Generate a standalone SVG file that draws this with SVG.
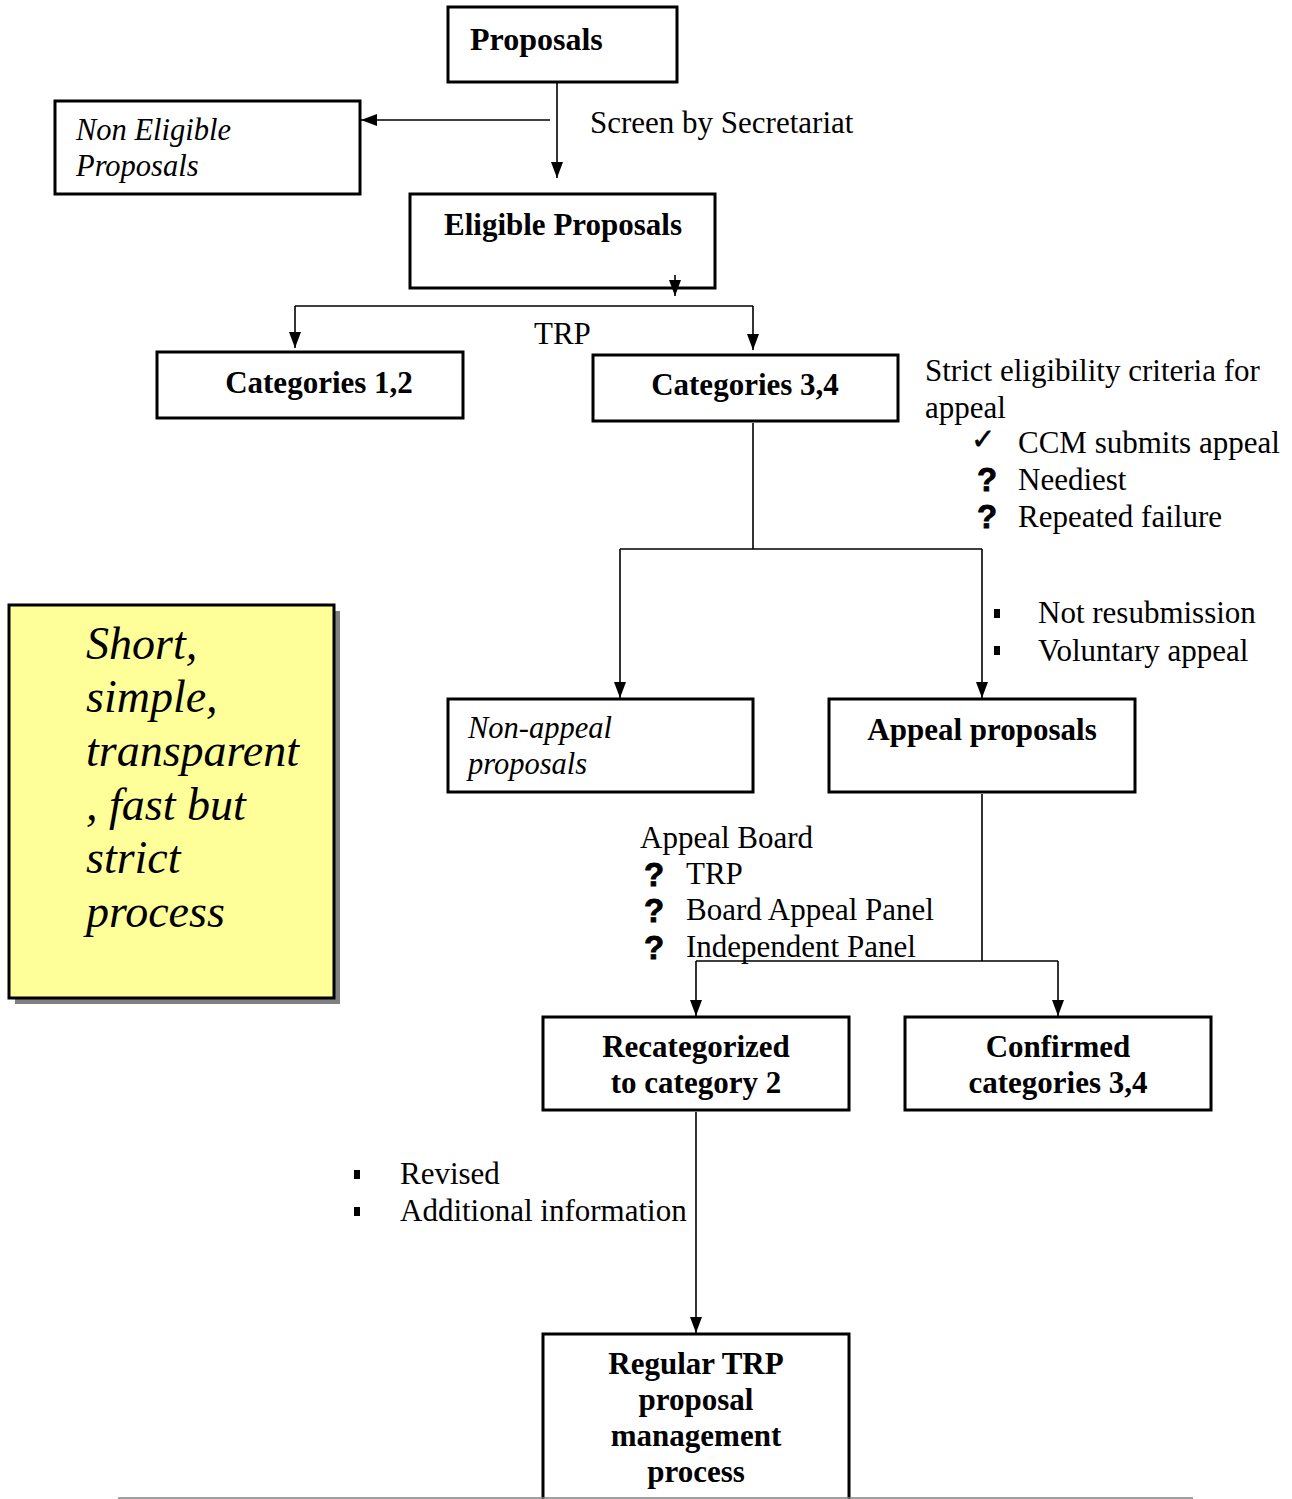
<svg xmlns="http://www.w3.org/2000/svg" width="1292" height="1499" viewBox="0 0 1292 1499">
<style>
.box{fill:#fff;stroke:#000;stroke-width:3}
.ln{fill:none;stroke:#000;stroke-width:1.6}
.b{font-family:"Liberation Serif","Times New Roman",serif;font-weight:bold;font-size:31px;fill:#000}
.r{font-family:"Liberation Serif","Times New Roman",serif;font-size:31px;fill:#000}
.i{font-family:"Liberation Serif","Times New Roman",serif;font-style:italic;font-size:30.5px;fill:#000}
.q{font-family:"Liberation Sans",Arial,sans-serif;font-weight:bold;font-size:33px;fill:#000;stroke:#000;stroke-width:0.8}
.m{text-anchor:middle}
</style>
<defs>
<marker id="ah" viewBox="0 0 16 12" refX="16" refY="6" markerWidth="16" markerHeight="12" markerUnits="userSpaceOnUse" orient="auto">
<path d="M0,0 L16,6 L0,12 z" fill="#000"/>
</marker>
</defs>
<rect width="1292" height="1499" fill="#fff"/>

<g id="proposals">
<rect class="box" x="448" y="7" width="229" height="75"/>
<text class="b" x="470" y="50" style="font-size:32px">Proposals</text>
</g>
<g id="non-eligible">
<rect class="box" x="55" y="101" width="305" height="93"/>
<text class="i" x="76" y="140">Non Eligible</text>
<text class="i" x="76" y="176">Proposals</text>
</g>
<text class="r" x="590" y="133">Screen by Secretariat</text>
<g id="eligible">
<rect class="box" x="410" y="194" width="305" height="94"/>
<text class="b m" x="563" y="235">Eligible Proposals</text>
</g>
<text class="r" x="534" y="344">TRP</text>
<g id="cat12">
<rect class="box" x="157" y="352" width="306" height="66"/>
<text class="b m" x="319" y="393">Categories 1,2</text>
</g>
<g id="cat34">
<rect class="box" x="593" y="355" width="305" height="66"/>
<text class="b m" x="745" y="395">Categories 3,4</text>
</g>
<g id="criteria">
<text class="r" x="925" y="381">Strict eligibility criteria for</text>
<text class="r" x="925" y="418">appeal</text>
<text x="971" y="449" style="font-family:'DejaVu Sans',sans-serif;font-size:29px;stroke:#000;stroke-width:0.5">✓</text>
<text class="r" x="1018" y="453">CCM submits appeal</text>
<text class="q" x="977" y="491">?</text>
<text class="r" x="1018" y="490">Neediest</text>
<text class="q" x="977" y="528">?</text>
<text class="r" x="1018" y="527">Repeated failure</text>
</g>
<g id="appeal-conditions">
<rect x="994" y="609" width="6" height="9" fill="#000"/>
<text class="r" x="1038" y="623">Not resubmission</text>
<rect x="994" y="646" width="6" height="9" fill="#000"/>
<text class="r" x="1038" y="661">Voluntary appeal</text>
</g>
<g id="slogan">
<rect x="15" y="611" width="325" height="393" fill="#808080"/>
<rect x="9" y="605" width="325" height="393" fill="#ffff99" stroke="#000" stroke-width="3"/>
<text x="86" style="font-family:'Liberation Serif','Times New Roman',serif;font-style:italic;font-size:46px">
<tspan x="86" y="659">Short,</tspan>
<tspan x="86" y="712">simple,</tspan>
<tspan x="86" y="766">transparent</tspan>
<tspan x="86" y="820">, fast but</tspan>
<tspan x="86" y="873">strict</tspan>
<tspan x="86" y="927">process</tspan>
</text>
</g>
<g id="non-appeal">
<rect class="box" x="448" y="699" width="305" height="93"/>
<text class="i" x="468" y="738">Non-appeal</text>
<text class="i" x="468" y="774">proposals</text>
</g>
<g id="appeal">
<rect class="box" x="829" y="699" width="306" height="93"/>
<text class="b m" x="982" y="740">Appeal proposals</text>
</g>
<g id="appeal-board">
<text class="r" x="640" y="848">Appeal Board</text>
<text class="q" x="644" y="886">?</text>
<text class="r" x="686" y="884">TRP</text>
<text class="q" x="644" y="922">?</text>
<text class="r" x="686" y="920">Board Appeal Panel</text>
<text class="q" x="644" y="959">?</text>
<text class="r" x="686" y="957">Independent Panel</text>
</g>
<g id="recategorized">
<rect class="box" x="543" y="1017" width="306" height="93"/>
<text class="b m" x="696" y="1057">Recategorized</text>
<text class="b m" x="696" y="1093">to category 2</text>
</g>
<g id="confirmed">
<rect class="box" x="905" y="1017" width="306" height="93"/>
<text class="b m" x="1058" y="1057">Confirmed</text>
<text class="b m" x="1058" y="1093">categories 3,4</text>
</g>
<g id="revision">
<rect x="354" y="1170" width="6" height="9" fill="#000"/>
<text class="r" x="400" y="1184">Revised</text>
<rect x="354" y="1207" width="6" height="9" fill="#000"/>
<text class="r" x="400" y="1221">Additional information</text>
</g>
<g id="regular">
<rect class="box" x="543" y="1334" width="306" height="175"/>
<text class="b m" x="696" y="1374">Regular TRP</text>
<text class="b m" x="696" y="1410">proposal</text>
<text class="b m" x="696" y="1446">management</text>
<text class="b m" x="696" y="1482">process</text>
</g>
<line x1="118" y1="1498" x2="1193" y2="1498" stroke="#808080" stroke-width="1.5"/>

<g id="connectors">
<path class="ln" d="M557,83 V178" marker-end="url(#ah)"/>
<path class="ln" d="M550,120 H361" marker-end="url(#ah)"/>
<path class="ln" d="M675,275 V296" marker-end="url(#ah)"/>
<path class="ln" d="M295,306 H753"/>
<path class="ln" d="M295,306 V348" marker-end="url(#ah)"/>
<path class="ln" d="M753,306 V350" marker-end="url(#ah)"/>
<path class="ln" d="M753,423 V549 M620,549 H982"/>
<path class="ln" d="M620,549 V698" marker-end="url(#ah)"/>
<path class="ln" d="M982,549 V698" marker-end="url(#ah)"/>
<path class="ln" d="M982,794 V961 M696,961 H1058"/>
<path class="ln" d="M696,961 V1016" marker-end="url(#ah)"/>
<path class="ln" d="M1058,961 V1016" marker-end="url(#ah)"/>
<path class="ln" d="M696,1112 V1333" marker-end="url(#ah)"/>
</g>
</svg>
